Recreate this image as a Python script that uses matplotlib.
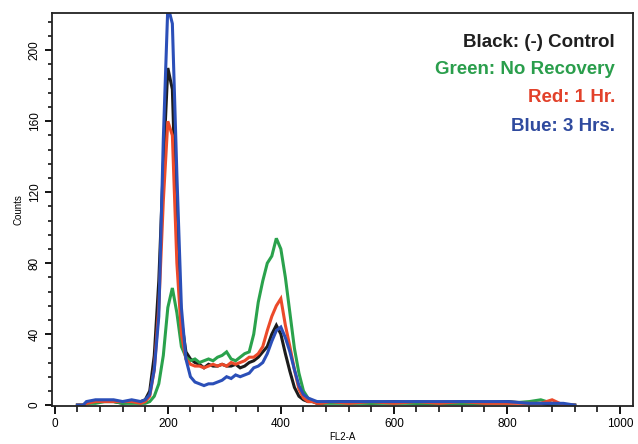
import numpy as np
import matplotlib
matplotlib.use('Agg')
import matplotlib.pyplot as plt
from matplotlib.ticker import MultipleLocator

# channel positions (FL2-A), shared by all four histograms
channel = [40, 50, 56, 72, 88, 104, 120, 136, 152,
           160, 168, 176, 184, 192, 200, 208, 216, 224, 232,
           240, 248, 256, 264, 272, 280, 288, 296, 304, 312,
           320, 328, 336, 344, 352, 360, 368, 376, 384, 392,
           400, 408, 416, 424, 432, 440, 448, 456, 464, 472,
           488, 520, 560, 600, 640, 680, 720, 760, 800, 840, 860, 880, 900, 920]

black_counts = [0, 0, 1, 2, 2, 2, 1, 2, 2,
                3, 8, 28, 70, 135, 190, 178, 95, 48, 30,
                26, 24, 23, 21, 23, 22, 22, 23, 22, 22,
                23, 21, 22, 24, 25, 27, 30, 33, 40, 45,
                40, 29, 19, 10, 5, 3, 2, 2, 1, 1,
                2, 2, 1, 2, 1, 1, 1, 1, 2, 1, 1, 0, 0, 0]

green_counts = [0, 0, 1, 1, 2, 2, 1, 1, 1,
                1, 2, 5, 12, 28, 55, 66, 52, 33, 27,
                25, 26, 24, 25, 26, 25, 27, 28, 30, 26,
                25, 27, 29, 30, 40, 58, 70, 80, 84, 94,
                88, 72, 52, 32, 18, 8, 4, 2, 2, 1,
                1, 1, 1, 1, 1, 1, 1, 1, 1, 2, 3, 1, 0, 0]

red_counts = [0, 0, 1, 2, 2, 2, 2, 2, 1,
              2, 5, 20, 55, 115, 160, 152, 80, 40, 26,
              23, 22, 22, 21, 22, 23, 22, 23, 22, 24,
              23, 24, 25, 27, 27, 29, 33, 42, 50, 56,
              60, 45, 33, 20, 9, 4, 2, 2, 1, 1,
              2, 1, 2, 1, 2, 1, 2, 1, 1, 1, 1, 3, 0, 0]

blue_counts = [0, 0, 2, 3, 3, 3, 2, 3, 2,
               3, 6, 20, 50, 150, 225, 215, 130, 55, 26,
               16, 13, 12, 11, 12, 12, 13, 14, 16, 15,
               17, 16, 17, 18, 21, 22, 24, 29, 36, 42,
               44, 38, 30, 20, 11, 6, 4, 3, 2, 2,
               2, 2, 2, 2, 2, 2, 2, 2, 2, 1, 1, 1, 1, 0]

legend_labels = ['Black: (-) Control', 'Green: No Recovery', 'Red: 1 Hr.', 'Blue: 3 Hrs.']
line_colors = ['#1c1c1c', '#2aa24c', '#ec4a2a', '#2b4fb8']
text_colors = ['#1f1f1f', '#2a9e4c', '#e2412a', '#2f4a9e']

plt.rcParams['font.family'] = ['Liberation Sans', 'DejaVu Sans']

fig = plt.figure(figsize=(6.38, 4.44), dpi=100)
ax = fig.add_axes([0.0815, 0.0856, 0.9105, 0.8851])

for counts, color in zip([black_counts, green_counts, red_counts, blue_counts], line_colors):
    ax.plot(channel, counts, color=color, lw=2.2, solid_joinstyle='miter')

ax.set_xlim(-5, 1023)
ax.set_ylim(-0.5, 221)

ax.xaxis.set_major_locator(MultipleLocator(200))
ax.xaxis.set_minor_locator(MultipleLocator(40))
ax.yaxis.set_major_locator(MultipleLocator(40))
ax.yaxis.set_minor_locator(MultipleLocator(8))

ax.tick_params(axis='x', which='major', length=6, width=1.3, labelsize=8.5, pad=3)
ax.tick_params(axis='x', which='minor', length=4, width=1.1)
ax.tick_params(axis='y', which='major', length=5, width=1.3, labelsize=8.5, pad=3)
ax.tick_params(axis='y', which='minor', length=3, width=1.1)
for lab in ax.get_yticklabels():
    lab.set_rotation(90)
    lab.set_va('center')

for sp in ax.spines.values():
    sp.set_linewidth(1.3)
    sp.set_color('#222222')

ax.set_xlabel('FL2-A', fontsize=7, labelpad=1)
ax.set_ylabel('Counts', fontsize=7, labelpad=4)

ypos = [0.926, 0.855, 0.784, 0.710]
for label, color, yy in zip(legend_labels, text_colors, ypos):
    ax.text(0.969, yy, label, transform=ax.transAxes, ha='right', va='center',
            fontsize=13.5, fontweight='bold', color=color)

plt.savefig('out.png', dpi=100)
plt.close()
